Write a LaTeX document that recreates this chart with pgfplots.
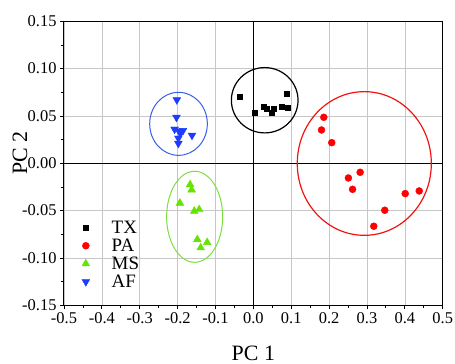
\documentclass[border=0pt]{standalone}
\usepackage{fontspec}
\setmainfont{Liberation Serif}
\usepackage{pgfplots}
\pgfplotsset{compat=1.18}
\definecolor{mred}{RGB}{255,0,0}
\definecolor{mgreen}{RGB}{100,228,0}
\definecolor{mblue}{RGB}{30,60,255}
\definecolor{egreen}{RGB}{120,225,60}
\definecolor{eblue}{RGB}{55,95,230}
\definecolor{ered}{RGB}{240,20,20}
\begin{document}
\begin{tikzpicture}
\begin{axis}[
  width=378.7bp, height=284bp, scale only axis,
  xmin=-0.5, xmax=0.5, ymin=-0.15, ymax=0.15,
  xtick={-0.5,-0.4,-0.3,-0.2,-0.1,0,0.1,0.2,0.3,0.4,0.5},
  ytick={-0.15,-0.1,-0.05,0,0.05,0.1,0.15},
  minor x tick num=1, minor y tick num=1,
  grid=major, grid style={black!22, line width=0.6bp},
  tick align=outside, xtick pos=bottom, ytick pos=left,
  major tick length=4bp, minor tick length=2.5bp,
  tick style={black, line width=0.8bp},
  axis line style={line width=1bp},
  /pgf/number format/assume math mode=true,
  ticklabel style={font=\fontsize{16.5}{18}\selectfont},
  xticklabel style={/pgf/number format/.cd, fixed, fixed zerofill, precision=1},
  yticklabel style={/pgf/number format/.cd, fixed, fixed zerofill, precision=2},
  xlabel={PC 1}, ylabel={PC 2},
  label style={font=\fontsize{22}{24}\selectfont},
  xlabel style={at={(axis description cs:0.5,-0.194)}, anchor=base},
  ylabel style={at={(axis description cs:-0.116,0.536)}, anchor=center},
  legend style={at={(axis description cs:0.039,0.312)}, anchor=north west, draw=none, fill=none,
    font=\fontsize{19}{21}\selectfont, column sep=20bp},
  legend cell align=left,
]
\draw[black, line width=1bp] (axis cs:0,-0.15) -- (axis cs:0,0.15);
\draw[black, line width=1bp] (axis cs:-0.5,0) -- (axis cs:0.5,0);
\addplot[only marks, mark=square*, mark size=2.5bp, black] coordinates {
(-0.037,0.0704) (0.003,0.0535) (0.028,0.0595) (0.035,0.0574) (0.048,0.0532)
(0.055,0.0581) (0.076,0.0599) (0.088,0.0732) (0.092,0.0585)};
\addlegendentry{TX}
\addplot[only marks, mark=*, mark size=3.5bp, mred, mark options={draw=mred, fill=mred}] coordinates {
(0.186,0.0486) (0.180,0.0352) (0.207,0.0218) (0.251,-0.0155) (0.282,-0.0095)
(0.262,-0.0275) (0.318,-0.0665) (0.347,-0.0496) (0.401,-0.032) (0.438,-0.0292)};
\addlegendentry{PA}
\addplot[only marks, mark=triangle*, mark size=4.5bp, mgreen, mark options={draw=mgreen, fill=mgreen}] coordinates {
(-0.167,-0.0225) (-0.163,-0.0280) (-0.194,-0.0420) (-0.156,-0.0505) (-0.143,-0.0488)
(-0.148,-0.0805) (-0.139,-0.0892) (-0.122,-0.0836)};
\addlegendentry{MS}
\addplot[only marks, mark=triangle*, mark size=4.5bp, mblue, mark options={draw=mblue, fill=mblue, rotate=180}] coordinates {
(-0.202,0.0670) (-0.203,0.0485) (-0.208,0.0360) (-0.195,0.0340) (-0.186,0.0345)
(-0.162,0.0295) (-0.193,0.0315) (-0.198,0.0265) (-0.198,0.0210)};
\addlegendentry{AF}
\draw[black, line width=1.2bp] (axis cs:0.030,0.0666) ellipse [x radius=0.088, y radius=0.0345];
\draw[ered, line width=1.2bp] (axis cs:0.293,-0.0002) ellipse [x radius=0.177, y radius=0.0759];
\draw[eblue, line width=1bp] (axis cs:-0.1976,0.0417) ellipse [x radius=0.0761, y radius=0.0333];
\draw[egreen, line width=1bp] (axis cs:-0.155,-0.0565) ellipse [x radius=0.074, y radius=0.0481];
\end{axis}
\pgfresetboundingbox
\path[use as bounding box] ([xshift=-64bp,yshift=-58.7bp]current axis.south west) rectangle ([xshift=12.3bp,yshift=21.3bp]current axis.north east);
\end{tikzpicture}
\end{document}
